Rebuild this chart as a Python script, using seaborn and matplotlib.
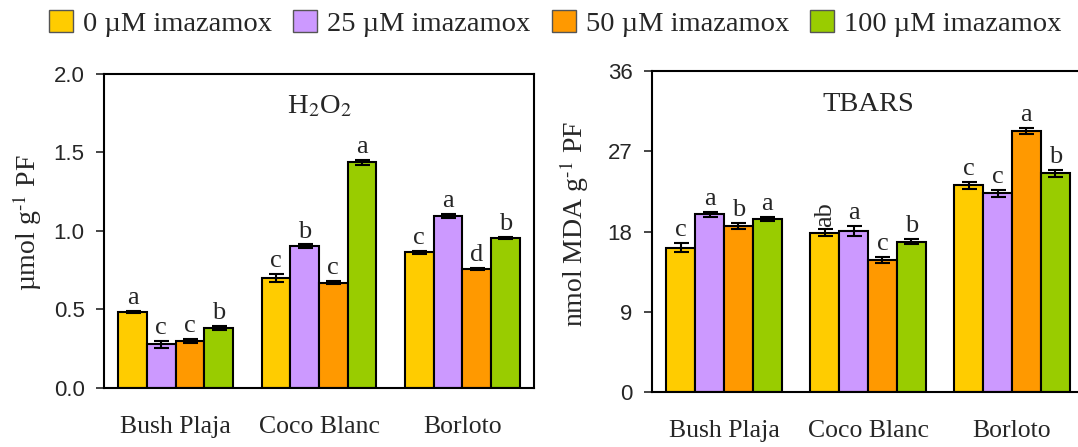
import numpy as np
import pandas as pd
import seaborn as sns
import matplotlib.pyplot as plt
from matplotlib.patches import Patch

# Data
cultivars = ["Bush Plaja", "Coco Blanc", "Borloto"]
treatments = ["0 µM imazamox", "25 µM imazamox", "50 µM imazamox", "100 µM imazamox"]
colors = ["#FFCC00", "#CC99FF", "#FF9900", "#99CC00"]

h2o2_mean = [[0.482, 0.699, 0.864],
             [0.278, 0.902, 1.096],
             [0.301, 0.671, 0.760],
             [0.382, 1.437, 0.953]]
h2o2_err = [[0.006, 0.025, 0.008],
            [0.023, 0.012, 0.012],
            [0.012, 0.008, 0.006],
            [0.012, 0.018, 0.006]]
h2o2_letters = [["a", "c", "c"],
                ["c", "b", "a"],
                ["c", "c", "d"],
                ["b", "a", "b"]]

tbars_mean = [[16.2, 17.85, 23.2],
              [19.94, 18.07, 22.27],
              [18.6, 14.81, 29.26],
              [19.42, 16.88, 24.55]]
tbars_err = [[0.52, 0.39, 0.39],
             [0.26, 0.54, 0.36],
             [0.37, 0.37, 0.37],
             [0.26, 0.28, 0.39]]
tbars_letters = [["c", "ab", "c"],
                 ["a", "a", "c"],
                 ["b", "c", "a"],
                 ["a", "b", "b"]]

sns.set_style("white")
plt.rcParams["font.family"] = ["Liberation Serif", "DejaVu Serif"]
plt.rcParams["mathtext.fontset"] = "stix"


def long_table(means, errs, letters):
    rows = []
    for t, trt in enumerate(treatments):
        for c, cv in enumerate(cultivars):
            rows.append({"cultivar": cv, "treatment": trt, "value": means[t][c],
                         "err": errs[t][c], "letter": letters[t][c]})
    return pd.DataFrame(rows)


def panel(ax, df, ylim, yticks, yfmt, ylabel, title):
    sns.barplot(data=df, x="cultivar", y="value", hue="treatment", order=cultivars,
                hue_order=treatments, palette=colors, saturation=1, width=0.8,
                edgecolor="black", linewidth=1.5, errorbar=None, legend=False, ax=ax)
    for trt, cont in zip(treatments, ax.containers):
        sub = df[df["treatment"] == trt].set_index("cultivar").loc[cultivars]
        for bar, err, let in zip(cont, sub["err"], sub["letter"]):
            xc = bar.get_x() + bar.get_width() / 2
            h = bar.get_height()
            ax.errorbar(xc, h, yerr=err, fmt="none", ecolor="black", elinewidth=1.5,
                        capsize=5.4, capthick=1.5, zorder=5)
            if len(let) > 1:
                ax.annotate(let, (xc, h + err), xytext=(0, 1.5), textcoords="offset points",
                            ha="center", va="bottom", rotation=90, fontsize=19)
            else:
                ax.annotate(let, (xc, h + err), xytext=(0, 5), textcoords="offset points",
                            ha="center", va="baseline", fontsize=19)
    ax.set_xlim(-0.5, 2.5)
    ax.set_ylim(*ylim)
    ax.set_yticks(yticks)
    ax.set_yticklabels([yfmt.format(v) for v in yticks], fontfamily="Liberation Sans", fontsize=16)
    ax.tick_params(axis="y", direction="out", length=6, width=1.2, pad=8, left=True)
    ax.tick_params(axis="x", length=0, pad=20, labelsize=18.5)
    ax.set_xlabel("")
    ax.set_ylabel(ylabel, fontsize=20)
    ax.yaxis.set_label_coords(-0.14, 0.525)
    for s in ax.spines.values():
        s.set_color("black")
        s.set_linewidth(1.5)
    ax.text(0.5, 0.895, title, transform=ax.transAxes, ha="center", va="center", fontsize=20.5)


fig = plt.figure(figsize=(10.78, 4.47), dpi=100)
ax1 = fig.add_axes([0.0965, 0.132, 0.3989, 0.7025])
ax2 = fig.add_axes([0.6048, 0.123, 0.4008, 0.718])

panel(ax1, long_table(h2o2_mean, h2o2_err, h2o2_letters), (0, 2.0),
      [0.0, 0.5, 1.0, 1.5, 2.0], "{:.1f}", r"µmol g$^{\text{-1}}$ PF", r"H$_2$O$_2$")
panel(ax2, long_table(tbars_mean, tbars_err, tbars_letters), (0, 36),
      [0, 9, 18, 27, 36], "{:d}", r"nmol MDA g$^{\text{-1}}$ PF", "TBARS")

handles = [Patch(facecolor=c, edgecolor="#555555", linewidth=1) for c in colors]
fig.legend(handles, treatments, loc="center", bbox_to_anchor=(0.515, 0.948), ncol=4,
           frameon=False, fontsize=20.5, handlelength=0.84, handleheight=0.8,
           handletextpad=0.35, columnspacing=0.75, borderpad=0)

fig.savefig("out.png", dpi=100)
